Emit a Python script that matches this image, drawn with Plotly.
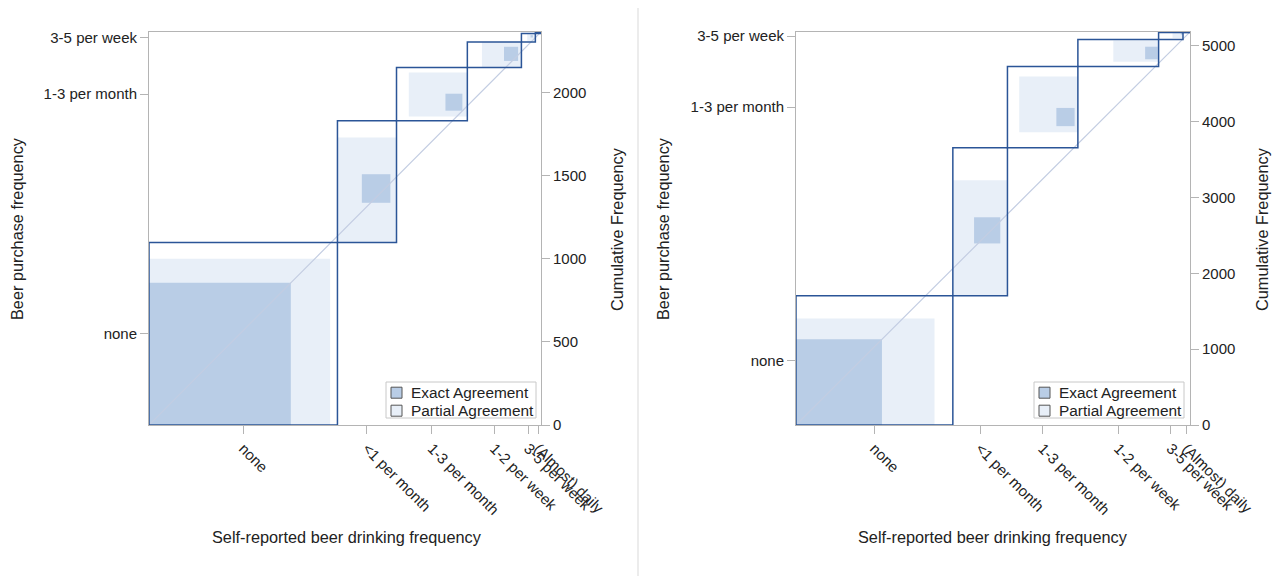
import plotly.graph_objects as go

categories = ["none", "<1 per month", "1-3 per month", "1-2 per week", "3-5 per week", "(Almost) daily"]
y_label_idx = [0, 2, 4]
legend_labels = ["Exact Agreement", "Partial Agreement"]

# Panel A (left)
a_col_edges = [0, 1136, 1492, 1919, 2245, 2329, 2363]
a_row_edges = [0, 1098, 1829, 2149, 2303, 2354, 2363]
a_exact_x0 = [0, 1283, 1787, 2140, 2300, 2352]
a_exact_y0 = [0, 1336, 1890, 2189, 2330, 2357]
a_exact_n = [855, 172, 102, 85, 14, 4]
a_part_x0 = [0, 1136, 1566, 2007, 2280, 2335]
a_part_x1 = [1092, 1492, 1919, 2245, 2329, 2363]
a_part_y0 = [0, 1098, 1855, 2153, 2310, 2354]
a_part_y1 = [1000, 1729, 2120, 2303, 2354, 2363]
a_cum_ticks = [0, 500, 1000, 1500, 2000]

# Panel B (right)
b_col_edges = [0, 2062, 2780, 3706, 4767, 5088, 5180]
b_row_edges = [0, 1705, 3653, 4724, 5082, 5172, 5180]
b_exact_x0 = [0, 2341, 3423, 4590, 5060, 5170]
b_exact_y0 = [0, 2393, 3939, 4821, 5145, 5175]
b_exact_n = [1130, 345, 240, 165, 22, 4]
b_part_x0 = [0, 2062, 2935, 4172, 4950, 5130]
b_part_x1 = [1821, 2780, 3706, 4767, 5088, 5180]
b_part_y0 = [0, 1705, 3857, 4787, 5100, 5172]
b_part_y1 = [1405, 3227, 4593, 5068, 5172, 5180]
b_cum_ticks = [0, 1000, 2000, 3000, 4000, 5000]

EXACT = "#b9cde6"
PART = "#e8eff8"
OUTLINE = "#2b5597"
DIAG = "#c3cde2"
AXC = "#b4b4b4"
FONT = "Arial, Liberation Sans, sans-serif"
FS = 15
FT = 16.3

W, H = 1277, 576
fig = go.Figure()
shapes = []
ann = []

def px(x):
    return x / W

def py(y):
    return (H - y) / H

def panel(sfx_x, ya, yb, col_edges, row_edges, ex_x0, ex_y0, ex_n,
          p_x0, p_x1, p_y0, p_y1):
    xr = "x" + sfx_x
    yr = "y" + ya
    for i in range(len(categories)):
        shapes.append(dict(type="rect", xref=xr, yref=yr, layer="below",
                           x0=p_x0[i], x1=p_x1[i], y0=p_y0[i], y1=p_y1[i],
                           fillcolor=PART, line=dict(width=0)))
    for i in range(len(categories)):
        shapes.append(dict(type="rect", xref=xr, yref=yr, layer="below",
                           x0=ex_x0[i], x1=ex_x0[i] + ex_n[i],
                           y0=ex_y0[i], y1=ex_y0[i] + ex_n[i],
                           fillcolor=EXACT, line=dict(width=0)))
    for i in range(len(categories)):
        shapes.append(dict(type="rect", xref=xr, yref=yr, layer="above",
                           x0=col_edges[i], x1=col_edges[i + 1],
                           y0=row_edges[i], y1=row_edges[i + 1],
                           fillcolor="rgba(0,0,0,0)", line=dict(color=OUTLINE, width=1.5)))
    N = col_edges[-1]
    fig.add_trace(go.Scatter(x=[0, N], y=[0, row_edges[-1]], mode="lines",
                             line=dict(color=DIAG, width=1.2), showlegend=False,
                             hoverinfo="skip", xaxis=xr, yaxis="y" + yb))
    fig.add_trace(go.Scatter(x=[0], y=[0], mode="markers", marker=dict(opacity=0),
                             showlegend=False, hoverinfo="skip", xaxis=xr, yaxis=yr))

panel("", "", "2", a_col_edges, a_row_edges, a_exact_x0, a_exact_y0, a_exact_n,
      a_part_x0, a_part_x1, a_part_y0, a_part_y1)
panel("2", "3", "4", b_col_edges, b_row_edges, b_exact_x0, b_exact_y0, b_exact_n,
      b_part_x0, b_part_x1, b_part_y0, b_part_y1)

def mids(e):
    return [(e[i] + e[i + 1]) / 2 for i in range(len(e) - 1)]

tf = dict(family=FONT, size=FS, color="#222222")

def xaxis_cfg(dom, edges, anchor):
    return dict(domain=dom, anchor=anchor, range=[0, edges[-1]], tickvals=mids(edges),
                ticktext=categories, tickangle=45, ticks="outside", ticklen=8,
                tickcolor=AXC, showline=True, linecolor=AXC, mirror=True,
                showgrid=False, zeroline=False, tickfont=tf, automargin=False)

def yleft_cfg(dom, edges, anchor):
    m = mids(edges)
    return dict(domain=dom, anchor=anchor, range=[0, edges[-1]],
                tickvals=[m[i] for i in y_label_idx],
                ticktext=[categories[i] for i in y_label_idx],
                ticks="outside", ticklen=8, tickcolor=AXC, showline=True,
                linecolor=AXC, showgrid=False, zeroline=False, tickfont=tf,
                automargin=False)

def yright_cfg(over, edges, anchor, ticks):
    return dict(overlaying=over, anchor=anchor, side="right", range=[0, edges[-1]],
                tickvals=ticks, ticks="outside", ticklen=8, tickcolor=AXC,
                showline=True, linecolor=AXC, showgrid=False, zeroline=False,
                tickfont=tf, automargin=False)

xd1 = [px(149), px(541)]
xd2 = [px(796), px(1190)]
yd = [py(425), py(32)]

shapes.append(dict(type="line", xref="paper", yref="paper", x0=px(638), x1=px(638),
                   y0=0, y1=py(8), line=dict(color="#d9d9d9", width=1)))

def txt(x, y, s, angle=0, size=FT, xanchor="center"):
    ann.append(dict(text=s, x=px(x), y=py(y), xref="paper", yref="paper",
                    showarrow=False, textangle=angle,
                    font=dict(family=FONT, size=size, color="#222222"),
                    xanchor=xanchor, yanchor="middle"))

txt(347, 537, "Self-reported beer drinking frequency")
txt(993, 537, "Self-reported beer drinking frequency")
txt(17, 229, "Beer purchase frequency", -90)
txt(663, 229, "Beer purchase frequency", -90)
txt(617, 229, "Cumulative Frequency", -90)
txt(1262, 229, "Cumulative Frequency", -90)

# manual legends (box, swatches, labels)
legend_fills = [EXACT, PART]
for lx in (386, 1034):
    shapes.append(dict(type="rect", xref="paper", yref="paper",
                       x0=px(lx), x1=px(lx + 150), y0=py(418), y1=py(382),
                       fillcolor="white", line=dict(color="#c8c8c8", width=1), layer="above"))
    for k, (lab, fc) in enumerate(zip(legend_labels, legend_fills)):
        cy = 392.7 + 18 * k
        shapes.append(dict(type="rect", xref="paper", yref="paper",
                           x0=px(lx + 5), x1=px(lx + 16), y0=py(cy + 5.5), y1=py(cy - 5.5),
                           fillcolor=fc, line=dict(color="#555555", width=1), layer="above"))
        txt(lx + 23, cy, lab, size=15.4, xanchor="left")

fig.update_layout(
    width=W, height=H,
    margin=dict(l=0, r=0, t=0, b=0, autoexpand=False),
    paper_bgcolor="white", plot_bgcolor="white",
    xaxis=xaxis_cfg(xd1, a_col_edges, "y"),
    yaxis=yleft_cfg(yd, a_row_edges, "x"),
    yaxis2=yright_cfg("y", a_row_edges, "x", a_cum_ticks),
    xaxis2=xaxis_cfg(xd2, b_col_edges, "y3"),
    yaxis3=yleft_cfg(yd, b_row_edges, "x2"),
    yaxis4=yright_cfg("y3", b_row_edges, "x2", b_cum_ticks),
    shapes=shapes,
    annotations=ann,
    showlegend=False,
)

fig.write_html("out.html", config={"displayModeBar": False},
               post_script="document.body.style.margin='0';document.body.style.overflow='hidden';")
